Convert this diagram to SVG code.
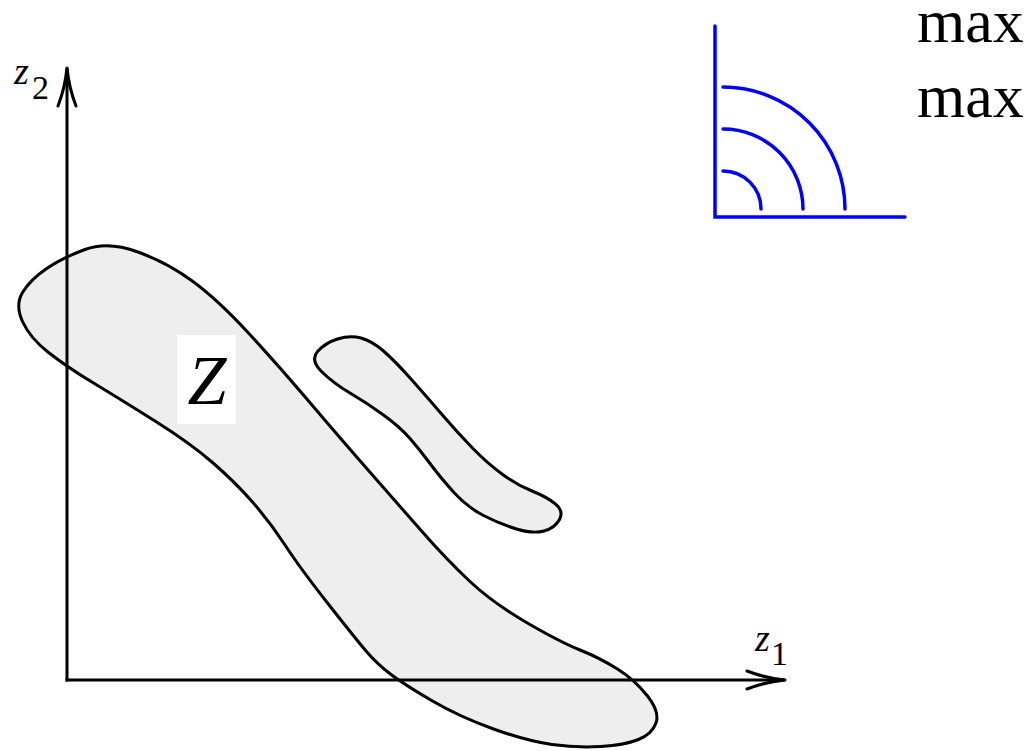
<svg xmlns="http://www.w3.org/2000/svg" width="1035" height="751" viewBox="0 0 1035 751">
<style>
.blob{fill:#eeeeee;stroke:#000;stroke-width:3;stroke-linejoin:round}
.axis{fill:none;stroke:#000;stroke-width:3}
.blue{fill:none;stroke:#0000ff;stroke-width:3.5;stroke-linecap:round}
.serif{font-family:"Liberation Serif","Times New Roman",serif;fill:#000}
.it{font-style:italic}
</style>
<defs>
<marker id="arr" markerUnits="userSpaceOnUse" viewBox="-42 -12 46 24" markerWidth="46" markerHeight="24" refX="0" refY="0" orient="auto" overflow="visible">
<path d="M-38,-9 C-25,-4 -10,-1 0,0 C-10,1 -25,4 -38,9" fill="none" stroke="#000" stroke-width="3" stroke-linecap="round" stroke-linejoin="round"/>
</marker>
</defs>
<rect width="1035" height="751" fill="#fff"/>
<g id="region-Z">
<path class="blob" d="M85,249.5 Q108,241 138,252 Q168,263 193,281.5 Q218,300 248,332.5 Q278,365 309,401.5 Q340,438 368.5,470.5 Q397,503 422,531.5 Q447,560 470,581.5 Q493,603 526.5,622.5 Q560,642 580,650 Q600,658 617.5,669 Q635,680 647.5,696 Q660,712 656,723 Q652,734 638.5,739.5 Q625,745 601,746.5 Q577,748 552,744.5 Q527,741 493.5,729 Q460,717 432.5,701 Q405,685 391,674.5 Q377,664 366,651 Q355,638 327.5,603 Q300,568 285,545 Q270,522 252.5,502 Q235,482 212.5,462.5 Q190,443 155,421 Q120,399 93.5,383 Q67,367 48.5,352.5 Q30,338 22.5,321.5 Q15,305 22.5,292.5 Q30,280 46,269 Q62,258 85,249.5 Z"/>
</g>
<g id="region-small">
<path class="blob" d="M337.5,339 Q350,335 361,338 Q372,341 383.5,351 Q395,361 411,379 Q427,397 442,414.5 Q457,432 472,447.5 Q487,463 502,474 Q517,485 532,491 Q547,497 555.5,504 Q564,511 559.5,519.5 Q555,528 544,531 Q533,534 516.5,529 Q500,524 483.5,515.5 Q467,507 453.5,492 Q440,477 430,463.5 Q420,450 410,438.5 Q400,427 383.5,415 Q367,403 350,393 Q333,383 321.5,371.5 Q310,360 317.5,351.5 Q325,343 337.5,339 Z"/>
</g>
<g id="connectors">
<line class="axis" x1="67" y1="681.5" x2="67" y2="68" marker-end="url(#arr)"/>
<line class="axis" x1="65.5" y1="680" x2="785" y2="680" marker-end="url(#arr)"/>
</g>
<g id="label-Z">
<rect x="177" y="335" width="59" height="89" fill="#fff"/>
<text class="serif it" x="207" y="404" font-size="70" text-anchor="middle">Z</text>
</g>
<g id="label-z2">
<text class="serif" x="14" y="84"><tspan class="it" font-size="38">z</tspan><tspan font-size="34" x="32" y="99">2</tspan></text>
</g>
<g id="label-z1">
<text class="serif" x="755" y="651"><tspan class="it" font-size="38">z</tspan><tspan font-size="34" x="771" y="665">1</tspan></text>
</g>
<g id="icon">
<path class="blue" d="M715,26 L715,217 L905,217" stroke-linecap="butt" stroke-linejoin="miter"/>
<path class="blue" d="M723,171 A38,38 0 0 1 761,209"/>
<path class="blue" d="M723,129 A80,80 0 0 1 803,209"/>
<path class="blue" d="M723,87 A122,122 0 0 1 845,209"/>
</g>
<g id="labels-max">
<text class="serif" x="917" y="42" font-size="62">max</text>
<text class="serif" x="917" y="117" font-size="62">max</text>
</g>
</svg>
